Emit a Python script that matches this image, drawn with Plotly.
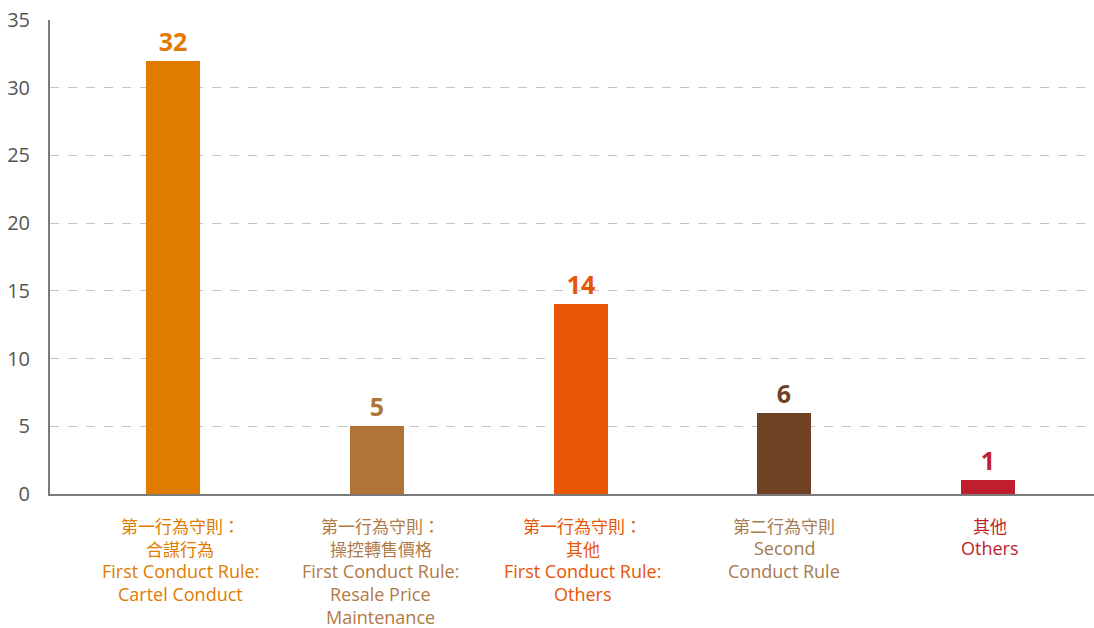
import plotly.graph_objects as go

categories = ["cartel", "rpm", "first_other", "second", "others"]
zh_labels = [["第一行為守則：", "合謀行為"], ["第一行為守則：", "操控轉售價格"], ["第一行為守則：", "其他"],
             ["第二行為守則"], ["其他"]]
en_labels = [["First Conduct Rule:", "Cartel Conduct"], ["First Conduct Rule:", "Resale Price", "Maintenance"],
             ["First Conduct Rule:", "Others"], ["Second", "Conduct Rule"], ["Others"]]
values = [32, 5, 14, 6, 1]
bar_colors = ["#E07B00", "#B07438", "#E85504", "#6F4224", "#BE1E2D"]
label_colors = ["#E07B00", "#B07A45", "#E85504", "#A57A50", "#BE1E2D"]
y_ticks = [0, 5, 10, 15, 20, 25, 30, 35]
label_xshift = [7, 4, 2, 0, 2]

fig = go.Figure()
fig.add_trace(go.Bar(
    x=list(range(len(categories))), y=values,
    marker=dict(color=bar_colors, line=dict(width=0)),
    width=0.265,
    text=[f"<b>{v}</b>" for v in values],
    textposition="outside",
    textfont=dict(family="Open Sans, DejaVu Sans, sans-serif", size=25, color=bar_colors),
    cliponaxis=False,
    hoverinfo="skip",
))

for i in range(len(categories)):
    lines = [(t, "Noto Sans CJK TC", 17) for t in zh_labels[i]] + \
            [(t, "Open Sans, sans-serif", 18) for t in en_labels[i]]
    for k, (t, fam, sz) in enumerate(lines):
        fig.add_annotation(
            x=i, y=0, xref="x", yref="y", yshift=-(31 + 23.1 * k), xshift=label_xshift[i],
            text=t, showarrow=False, yanchor="middle", xanchor="center", align="center",
            font=dict(family=fam, size=sz, color=label_colors[i]),
        )

fig.update_layout(
    width=1094, height=628,
    margin=dict(l=50, r=0, t=20, b=134, autoexpand=False),
    plot_bgcolor="white", paper_bgcolor="white",
    showlegend=False,
    bargap=0,
    xaxis=dict(range=[-0.604, 4.52], showticklabels=False, showgrid=False, zeroline=False,
               showline=True, linecolor="#7a7a7a", linewidth=2, fixedrange=True, automargin=False),
    yaxis=dict(range=[0, 35], tickvals=y_ticks, showgrid=True, gridcolor="#c4c4c4",
               griddash="dash", gridwidth=1, zeroline=False, showline=True, automargin=False,
               linecolor="#7a7a7a", linewidth=2, ticks="", ticklabelstandoff=14,
               ticklabeloverflow="allow",
               tickfont=dict(family="Open Sans, DejaVu Sans, sans-serif", size=20, color="#555555")),
)

fig.write_html("out.html", config={"displayModeBar": False},
               post_script="document.body.style.margin='0px';document.body.style.overflow='hidden';")
